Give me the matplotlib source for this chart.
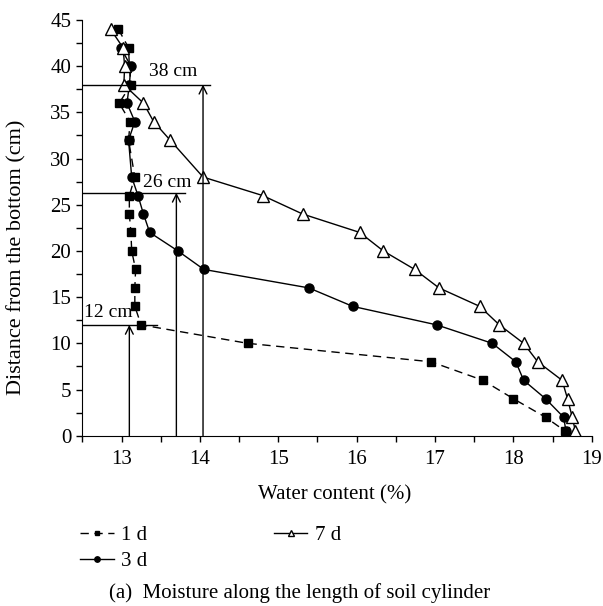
import numpy as np
import matplotlib.pyplot as plt
from matplotlib.ticker import MultipleLocator

plt.rcParams['font.family'] = ['Liberation Serif', 'DejaVu Serif']
plt.rcParams['font.size'] = 15

# depth (cm) and water content (%) for each series
d1_y = [44, 42, 40, 38, 36, 34, 32, 28, 26, 24, 22, 20, 18, 16, 14, 12, 10, 8, 6, 4, 2, 0.5]
d1_x = [12.96, 13.09, 13.10, 13.12, 12.97, 13.11, 13.09, 13.17, 13.10, 13.10, 13.12, 13.13,
        13.18, 13.17, 13.17, 13.25, 14.61, 16.95, 17.61, 18.00, 18.41, 18.66]
d3_y = [42, 40, 38, 36, 34, 32, 28, 26, 24, 22, 20, 18, 16, 14, 12, 10, 8, 6, 4, 2, 0.5]
d3_x = [12.99, 13.12, 13.10, 13.07, 13.17, 13.09, 13.13, 13.21, 13.28, 13.36, 13.72, 14.05,
        15.39, 15.95, 17.02, 17.73, 18.03, 18.13, 18.41, 18.64, 18.67]
d7_y = [44, 42, 40, 38, 36, 34, 32, 28, 26, 24, 22, 20, 18, 16, 14, 12, 10, 8, 6, 4, 2, 0.5]
d7_x = [12.86, 13.02, 13.04, 13.03, 13.28, 13.41, 13.62, 14.04, 14.80, 15.31, 16.04, 16.34,
        16.74, 17.05, 17.57, 17.82, 18.13, 18.31, 18.62, 18.69, 18.75, 18.79]

# wetting front annotations: depth, arrow x, line end x, label, label position
front_depth = [38, 26.3, 12]
front_x = [14.04, 13.70, 13.10]
front_line_end = [14.13, 13.81, 13.45]
front_label = ['38 cm', '26 cm', '12 cm']
front_label_x = [13.66, 13.58, 12.83]
front_label_y = [39.4, 27.4, 13.3]

fig = plt.figure(figsize=(6.03, 6.06), dpi=100)
ax = fig.add_axes([0.1365, 0.281, 0.845, 0.686])

l1, = ax.plot(d1_x, d1_y, 'k--', marker='s', ms=6, lw=1, dashes=(6, 4), label='1 d')
l3, = ax.plot(d3_x, d3_y, 'k-', marker='o', ms=6.5, lw=1, label='3 d')
l7, = ax.plot(d7_x, d7_y, 'k-', marker='^', ms=8, mfc='white', mew=1, lw=1, label='7 d')

for dep, xa, xe, lab, xl, yl in zip(front_depth, front_x, front_line_end, front_label,
                                    front_label_x, front_label_y):
    ax.plot([12.5, xe], [dep, dep], 'k-', lw=1)
    ax.annotate('', xy=(xa, dep), xytext=(xa, 0),
                arrowprops=dict(arrowstyle='->', lw=1, color='k', mutation_scale=14,
                                shrinkA=0, shrinkB=0))
    ax.text(xl, yl, lab, ha='center', va='center', fontsize=14)

ax.set_xlim(12.5, 19)
ax.set_ylim(0, 45)
ax.xaxis.set_major_locator(MultipleLocator(1))
ax.xaxis.set_minor_locator(MultipleLocator(0.5))
ax.yaxis.set_major_locator(MultipleLocator(5))
ax.yaxis.set_minor_locator(MultipleLocator(2.5))
ax.tick_params(which='both', direction='out', length=4.5, width=1, labelsize=15)
ax.tick_params(axis='x', pad=6)
ax.set_xticks([13, 14, 15, 16, 17, 18, 19])
ax.spines['top'].set_visible(False)
ax.spines['right'].set_visible(False)
ax.set_xlabel('Water content (%)', fontsize=15)
ax.xaxis.set_label_coords(0.495, -0.12)
ax.set_ylabel('Distance from the bottom (cm)', fontsize=16)
ax.yaxis.set_label_coords(-0.11, 0.43)

fig.legend(handles=[l1, l3, l7], ncol=2, loc='upper left', bbox_to_anchor=(0.133, 0.133),
           frameon=False, fontsize=15, markerscale=0.6, handlelength=1.6, handletextpad=0.35,
           columnspacing=6.1, labelspacing=0.3, borderpad=0, borderaxespad=0)
fig.text(0.497, 0.0215, '(a)  Moisture along the length of soil cylinder', ha='center',
         va='center', fontsize=15)

fig.savefig('out.png', dpi=100)
